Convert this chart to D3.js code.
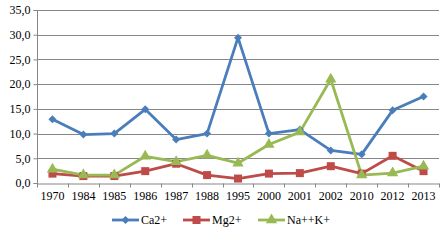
<!DOCTYPE html>
<html><head><meta charset="utf-8">
<script src="https://cdn.jsdelivr.net/npm/d3@7"></script>
<style>body{margin:0;background:#fff}svg{display:block}svg text{font-family:"Liberation Serif","Times New Roman",Tinos,serif !important;font-size:12px !important;fill:#000}</style>
</head><body>
<svg id="c" width="445" height="242" font-family="Liberation Serif"></svg>
<script>
const years = ["1970","1984","1985","1986","1987","1988","1995","2000","2001","2002","2010","2012","2013"];
const ca = [12.9,9.8,10.0,14.9,8.8,10.0,29.4,10.0,10.8,6.6,5.8,14.7,17.5];
const mg = [1.9,1.4,1.4,2.4,3.9,1.6,0.9,1.9,2.0,3.4,1.9,5.5,2.4];
const nak = [2.8,1.6,1.6,5.4,4.3,5.6,4.0,7.8,10.3,21.0,1.6,2.0,3.4];
const yTicks = [0,5,10,15,20,25,30,35];
const seriesNames = ["Ca2+","Mg2+","Na++K+"];
const colors = ["#4A7EBB","#BE4B48","#98B954"];
const symbols = [d3.symbolSquare, d3.symbolSquare, d3.symbolTriangle];
const symRot = [45, 0, 0];
const symSizes = [32, 64, 55];

const svg = d3.select("#c");
const pL = 37, pR = 439, pT = 10, pB = 183;
const x = d3.scaleBand().domain(years).range([pL, pR]);
const y = d3.scaleLinear().domain([0,35]).range([pB, pT]);

// gridlines
svg.append("g").selectAll("line").data(yTicks.slice(1)).join("line")
  .attr("x1", pL).attr("x2", pR)
  .attr("y1", d=>Math.round(y(d))+0.5).attr("y2", d=>Math.round(y(d))+0.5)
  .attr("stroke","#878787").attr("stroke-width",1);

// y axis
const ya = svg.append("g").attr("transform",`translate(${pL+0.5},0)`)
  .call(d3.axisLeft(y).tickValues(yTicks).tickSize(4).tickPadding(3)
    .tickFormat(d=>d3.format(".1f")(d).replace(".",",")));
ya.attr("font-family",null).attr("font-size",null);
ya.select(".domain").attr("stroke","#878787").attr("d",`M-4,${pT+0.5}H0V${pB+0.5}H-4`);
ya.selectAll(".tick line").attr("stroke","#878787");
ya.selectAll("text").attr("fill","#000");

// x axis
const xa = svg.append("g").attr("transform",`translate(0,${pB+0.5})`)
  .call(d3.axisBottom(x).tickSize(0).tickPadding(8));
xa.attr("font-family",null).attr("font-size",null);
xa.select(".domain").attr("stroke","#878787");
xa.selectAll("text").attr("fill","#000");
xa.append("g").selectAll("line").data(years.concat(["end"])).join("line")
  .attr("x1",(d,i)=>Math.round(pL + i*x.step())+0.5).attr("x2",(d,i)=>Math.round(pL + i*x.step())+0.5)
  .attr("y1",0).attr("y2",4).attr("stroke","#878787");

const data = [ca, mg, nak];
const line = d3.line().x((d,i)=>x(years[i])+x.bandwidth()/2).y(d=>y(d));
data.forEach((vals,k)=>{
  svg.append("path").datum(vals).attr("d",line).attr("fill","none")
    .attr("stroke",colors[k]).attr("stroke-width",2.8).attr("stroke-linejoin","round");
});
data.forEach((vals,k)=>{
  svg.append("g").selectAll("path").data(vals).join("path")
    .attr("d", d3.symbol().type(symbols[k]).size(symSizes[k]))
    .attr("transform",(d,i)=>`translate(${x(years[i])+x.bandwidth()/2},${y(d)}) rotate(${symRot[k]})`)
    .attr("fill",colors[k]);
});

// legend
const legX = [112,183,258];
const leg = svg.append("g");
seriesNames.forEach((n,k)=>{
  const g = leg.append("g").attr("transform",`translate(${legX[k]},220)`);
  g.append("line").attr("x1",0).attr("x2",27).attr("y1",0).attr("y2",0).attr("stroke",colors[k]).attr("stroke-width",2.8);
  g.append("path").attr("d",d3.symbol().type(symbols[k]).size(symSizes[k])).attr("transform",`translate(13.5,0) rotate(${symRot[k]})`).attr("fill",colors[k]);
  g.append("text").attr("x",29).attr("y",4).text(n);
});
</script>
</body></html>
